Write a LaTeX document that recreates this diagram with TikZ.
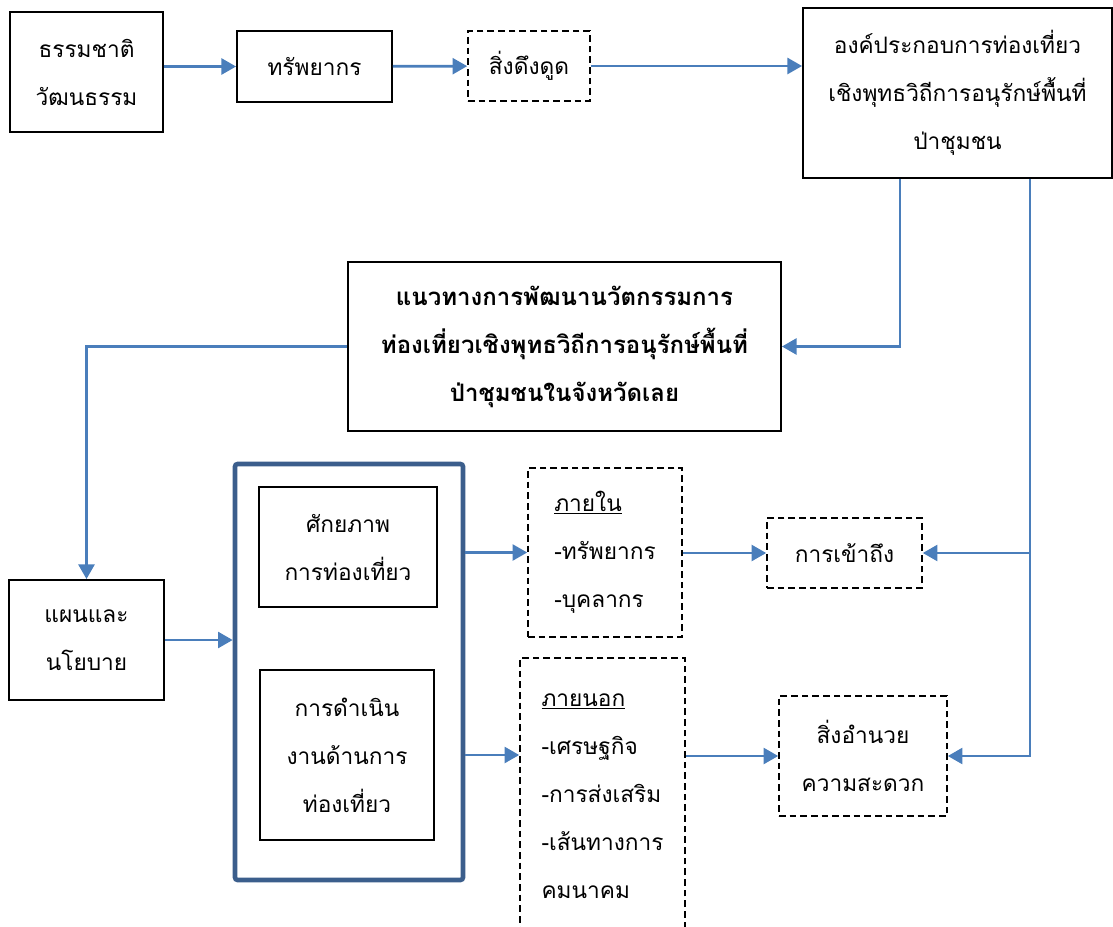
\documentclass[tikz,border=0pt]{standalone}
\usepackage{fontspec}
\setmainfont[Script=Thai]{Loma}
\usepackage{tikz}
\usetikzlibrary{arrows.meta}
\definecolor{flowblue}{HTML}{4A7EBB}
\definecolor{frameblue}{HTML}{3B5E8C}
\tikzset{
	box/.style={draw, line width=1.4pt, align=center, inner sep=0pt},
	dbox/.style={box, line width=1.2pt, dash pattern=on 5pt off 3pt},
	flow/.style={draw=flowblue, line width=2pt, -{Triangle[length=11pt,width=12pt]}},
	every node/.style={font=\fontsize{17}{36}\selectfont}
}

\begin{document}
\begin{tikzpicture}[x=0.75pt,y=-0.75pt]
	\clip (0,0) rectangle (1113,927);
	\node[box, minimum width=114.75pt, minimum height=90pt] (nature) at (86.5,72) {ธรรมชาติ\\วัฒนธรรม};
	\node[box, minimum width=116.25pt, minimum height=53.25pt] (resource) at (314.5,66.5) {ทรัพยากร};
	\node[dbox, minimum width=91.5pt, minimum height=52.5pt] (attract) at (529,66) {สิ่งดึงดูด};
	\node[box, minimum width=231.75pt, minimum height=127.5pt] (comp) at (957.5,93) {องค์ประกอบการท่องเที่ยว\\เชิงพุทธวิถีการอนุรักษ์พื้นที่\\ป่าชุมชน};
	\node[box, minimum width=324.75pt, minimum height=126.75pt, font=\fontsize{18}{36}\selectfont\bfseries] (guide) at (564.5,346.5) {แนวทางการพัฒนานวัตกรรมการ\\ท่องเที่ยวเชิงพุทธวิถีการอนุรักษ์พื้นที่\\ป่าชุมชนในจังหวัดเลย};
	\node[box, minimum width=116.25pt, minimum height=90pt] (plan) at (86.5,640) {แผนและ\\นโยบาย};
	\node[draw=frameblue, line width=3.5pt, rounded corners=2pt, minimum width=171pt, minimum height=312pt] (frame) at (349,672) {};
	\node[box, minimum width=133.5pt, minimum height=90pt] (potent) at (348,547) {ศักยภาพ\\การท่องเที่ยว};
	\node[box, minimum width=130.5pt, minimum height=127.5pt] (operate) at (347,755) {การดำเนิน\\งานด้านการ\\ท่องเที่ยว};
	\node[dbox, align=left, minimum width=115.5pt, minimum height=126.75pt] (inside) at (605,552.5) {\underline{ภายใน}\\-ทรัพยากร\\-บุคลากร};
	\node[dbox, align=left, minimum width=123.75pt, minimum height=207pt] (outside) at (602.5,796) {\underline{ภายนอก}\\-เศรษฐกิจ\\-การส่งเสริม\\-เส้นทางการ\\คมนาคม};
	\node[dbox, minimum width=116.25pt, minimum height=52.5pt] (access) at (844.5,553) {การเข้าถึง};
	\node[dbox, minimum width=126pt, minimum height=90pt] (facil) at (863,756) {สิ่งอำนวย\\ความสะดวก};
	\coordinate (j1) at (comp.south -| 900,0);
	\coordinate (j2) at (comp.south -| 1030,0);
	\draw[flow] (nature.east |- resource) -- (resource.west);
	\draw[flow] (resource) -- (attract);
	\draw[flow] (attract.east) -- (attract.east -| comp.west);
	\draw[flow] (j1) |- (guide.east);
	\draw[flow] (guide.west) -| (plan.north);
	\draw[flow] (plan.east) -- (plan.east -| frame.west);
	\draw[flow] (frame.east |- inside) -- (inside.west);
	\draw[flow] (frame.east |- operate) -- (operate -| outside.west);
	\draw[flow] (inside.east |- access) -- (access.west);
	\draw[flow] (outside.east |- facil) -- (facil.west);
	\draw[flow] (j2) |- (facil.east);
	\draw[flow] (j2 |- access.east) -- (access.east);
\end{tikzpicture}
\end{document}
